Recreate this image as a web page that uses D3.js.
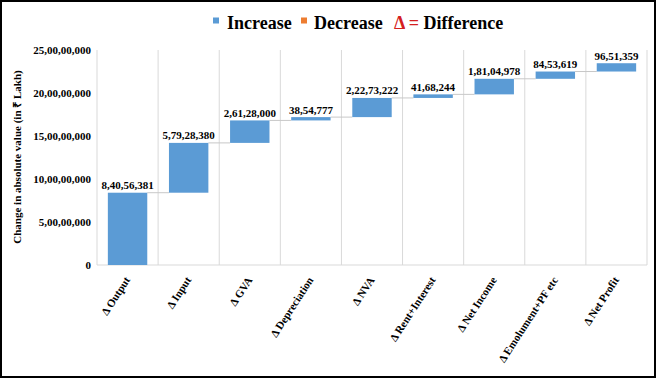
<!DOCTYPE html>
<html>
<head>
<meta charset="utf-8">
<script src="https://cdn.jsdelivr.net/npm/d3@7"></script>
<style>
  html, body { margin: 0; padding: 0; background: #fff; }
  svg { display: block; }
  text { font-family: "Liberation Serif", "Times New Roman", serif; font-weight: bold; }
</style>
</head>
<body>
<svg id="chart" width="657" height="379"></svg>
<script>
// ---- data ----
const categories = ["Δ Output", "Δ Input", "Δ GVA", "Δ Depreciation", "Δ NVA",
  "Δ Rent+Interest", "Δ Net Income", "Δ Emolument+PF etc", "Δ Net Profit"];
const increases = [84056381, 57928380, 26128000, 3854777, 22273222,
  4168244, 18104978, 8453619, 9651359];
const yTickValues = [0, 50000000, 100000000, 150000000, 200000000, 250000000];
const yTickLabels = ["0", "5,00,00,000", "10,00,00,000", "15,00,00,000", "20,00,00,000", "25,00,00,000"];
const legendItems = ["Increase", "Decrease"];
const legendColors = ["#5b9bd5", "#ed7d31"];

// Indian number formatting (lakh/crore grouping)
function inr(n) {
  const s = String(Math.round(n));
  if (s.length <= 3) return s;
  const last3 = s.slice(-3);
  let rest = s.slice(0, -3);
  const parts = [];
  while (rest.length > 2) { parts.unshift(rest.slice(-2)); rest = rest.slice(0, -2); }
  if (rest.length) parts.unshift(rest);
  return parts.join(",") + "," + last3;
}

// waterfall running totals
let run = 0;
const steps = increases.map((v, i) => {
  const start = run; run += v;
  return { cat: categories[i], v, start, end: run };
});

const svg = d3.select("#chart");
const pLeft = 97, pRight = 647, pTop = 50, pBottom = 265;

const xGrid = d3.scaleBand().domain(categories).range([pLeft, pRight]).padding(0);
const xBar = d3.scaleBand().domain(categories).range([pLeft, pRight])
  .paddingInner(0.355).paddingOuter(0.1775);
const y = d3.scaleLinear().domain([0, 250000000]).range([pBottom, pTop]);

// vertical gridlines at category boundaries
const bounds = categories.map(c => xGrid(c)).concat([pRight]);
svg.append("g").selectAll("line").data(bounds).join("line")
  .attr("x1", d => d).attr("x2", d => d)
  .attr("y1", pTop).attr("y2", pBottom)
  .attr("stroke", "#d9d9d9").attr("stroke-width", 1);
// bottom axis line
svg.append("line").attr("x1", pLeft).attr("x2", pRight)
  .attr("y1", pBottom).attr("y2", pBottom)
  .attr("stroke", "#d9d9d9").attr("stroke-width", 1);

// y axis labels
const yAxis = d3.axisLeft(y).tickValues(yTickValues)
  .tickFormat((d, i) => yTickLabels[i]).tickSize(0).tickPadding(0);
const gy = svg.append("g").attr("transform", "translate(91,0)").call(yAxis);
gy.select(".domain").remove();
gy.selectAll("text").attr("font-size", 11)
  .attr("font-family", "Liberation Serif, serif").attr("font-weight", "bold")
  .attr("fill", "#000");

// connectors
svg.append("g").selectAll("line").data(steps.slice(0, -1)).join("line")
  .attr("x1", d => xBar(d.cat) + xBar.bandwidth())
  .attr("x2", (d, i) => xBar(categories[i + 1]))
  .attr("y1", d => y(d.end)).attr("y2", d => y(d.end))
  .attr("stroke", "#c8c8c8").attr("stroke-width", 1);

// bars
svg.append("g").selectAll("rect").data(steps).join("rect")
  .attr("x", d => xBar(d.cat))
  .attr("width", xBar.bandwidth())
  .attr("y", d => y(d.end))
  .attr("height", d => y(d.start) - y(d.end))
  .attr("fill", "#5b9bd5");

// data labels
svg.append("g").selectAll("text").data(steps).join("text")
  .attr("x", d => xBar(d.cat) + xBar.bandwidth() / 2)
  .attr("y", d => y(d.end) - 3.5)
  .attr("text-anchor", "middle").attr("font-size", 11).attr("fill", "#000")
  .text(d => inr(d.v));

// x labels
svg.append("g").selectAll("text").data(categories).join("text")
  .attr("transform", d => `translate(${xGrid(d) + xGrid.bandwidth() / 2 + 3},280) rotate(-57)`)
  .attr("text-anchor", "end").attr("font-size", 11).attr("fill", "#000")
  .text(d => d);

// y title
svg.append("text")
  .attr("transform", "translate(21,157) rotate(-90)")
  .attr("text-anchor", "middle").attr("font-size", 11).attr("fill", "#000")
  .text("Change in absolute value (in ₹ Lakh)");

// legend
const lg = svg.append("g");
const legendX = [213, 301];
const legendTextX = [227, 314];
legendItems.forEach((t, i) => {
  lg.append("rect").attr("x", legendX[i]).attr("y", 17.5).attr("width", 6).attr("height", 6)
    .attr("fill", legendColors[i]);
  lg.append("text").attr("x", legendTextX[i]).attr("y", 29).attr("font-size", 18)
    .attr("fill", "#000").text(t);
});
const lt = lg.append("text").attr("x", 394).attr("y", 29).attr("font-size", 18);
lt.append("tspan").attr("fill", "#d42020").text("Δ = ");
lt.append("tspan").attr("fill", "#000").text("Difference");

// outer frame
svg.append("rect").attr("x", 1).attr("y", 1).attr("width", 654).attr("height", 376)
  .attr("fill", "none").attr("stroke", "#000").attr("stroke-width", 2);
</script>
</body>
</html>
